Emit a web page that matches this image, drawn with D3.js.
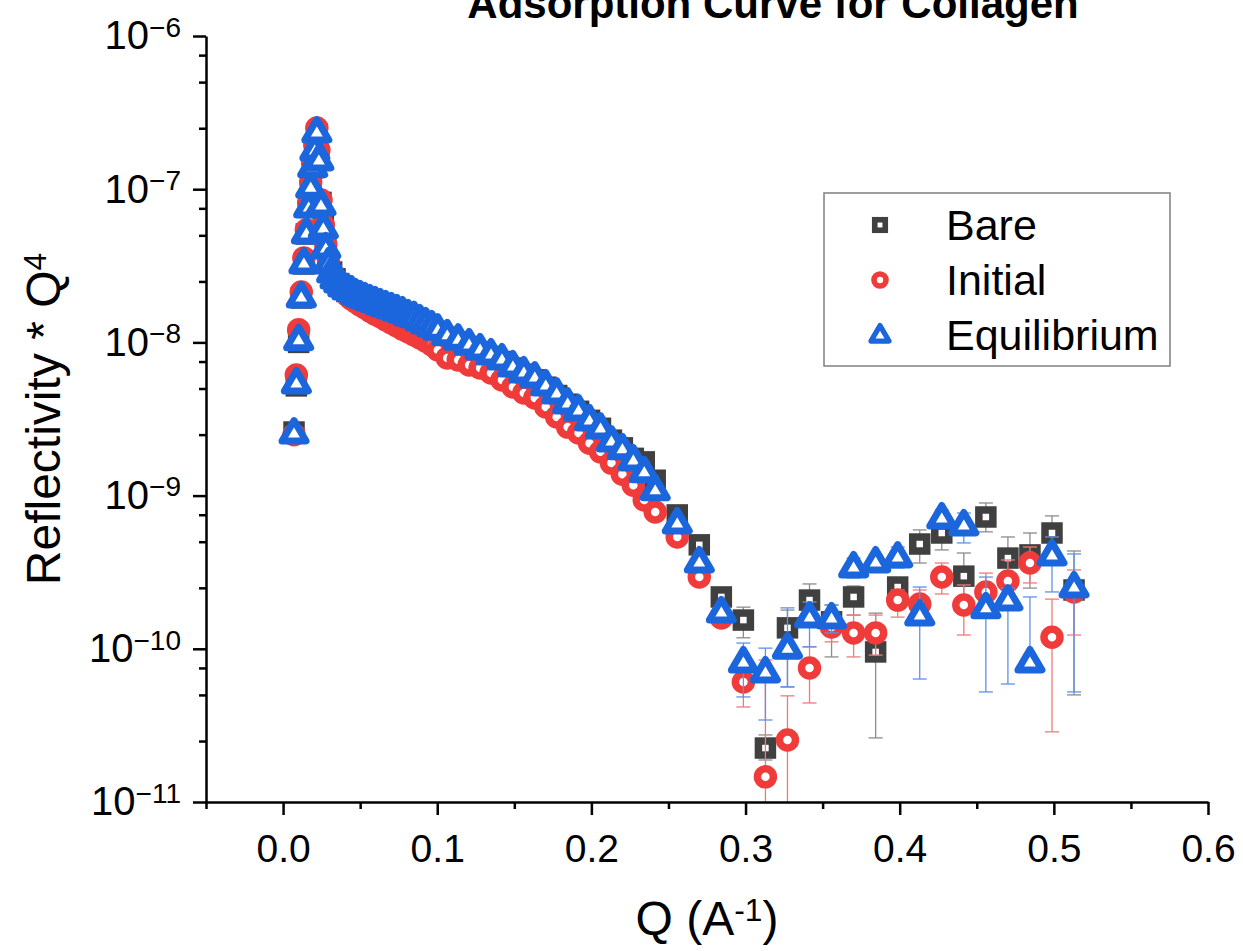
<!DOCTYPE html>
<html>
<head>
<meta charset="utf-8">
<script src="https://cdn.jsdelivr.net/npm/d3@7"></script>
<style>
  body { margin: 0; background: #fff; }
  svg { font-family: "Liberation Sans", Arial, sans-serif; }
</style>
</head>
<body>
<div id="chart"></div>
<script>
// Q values (A^-1), shared by the three runs
const qValues = [
  0.0071, 0.0086, 0.0101, 0.0118, 0.0135, 0.0151, 0.0166, 0.0179, 0.0192, 0.0206, 0.0219,
  0.0232, 0.0246, 0.0261, 0.0277, 0.0295, 0.0315, 0.0337, 0.0361, 0.0387, 0.0414,
  0.0442, 0.0471, 0.0501, 0.0532, 0.0564, 0.0597, 0.0631, 0.0666, 0.0702, 0.0738,
  0.0775, 0.0812, 0.0850, 0.0888, 0.0926, 0.0965, 0.1004,
  0.1065, 0.1136, 0.1207, 0.1278, 0.1349, 0.1420, 0.1491, 0.1562, 0.1633, 0.1704,
  0.1775, 0.1846, 0.1917, 0.1988, 0.2059, 0.2130, 0.2201, 0.2272, 0.2343, 0.2414,
  0.2557, 0.2700, 0.2843, 0.2986, 0.3129, 0.3272, 0.3415, 0.3558, 0.3701, 0.3844,
  0.3987, 0.4130, 0.4273, 0.4416, 0.4559, 0.4702, 0.4845, 0.4988, 0.5131
];

// Reflectivity * Q^4
const bareValues = [
  2.60e-9, 5.20e-9, 1.00e-8, 1.95e-8, 3.25e-8, 5.10e-8, 7.60e-8, 1.02e-7, 1.38e-7, 1.78e-7, 2.30e-7,
  1.60e-7, 8.20e-8, 5.70e-8, 4.20e-8, 3.35e-8, 2.88e-8, 2.60e-8, 2.42e-8, 2.27e-8, 2.15e-8,
  2.07e-8, 1.98e-8, 1.91e-8, 1.84e-8, 1.78e-8, 1.72e-8, 1.66e-8, 1.60e-8, 1.55e-8, 1.49e-8,
  1.44e-8, 1.39e-8, 1.34e-8, 1.29e-8, 1.24e-8, 1.19e-8, 1.14e-8,
  1.08e-8, 1.01e-8, 9.40e-9, 8.70e-9, 8.10e-9, 7.50e-9, 6.80e-9, 6.20e-9, 5.70e-9, 5.10e-9,
  4.50e-9, 3.95e-9, 3.55e-9, 3.10e-9, 2.75e-9, 2.30e-9, 2.05e-9, 1.75e-9, 1.66e-9, 1.26e-9,
  7.48e-10, 4.77e-10, 2.18e-10, 1.54e-10, 2.25e-11, 1.37e-10, 2.08e-10, 1.50e-10, 2.18e-10, 9.54e-11,
  2.53e-10, 4.83e-10, 5.70e-10, 2.98e-10, 7.25e-10, 3.91e-10, 4.10e-10, 5.70e-10, 2.42e-10
];
const initialValues = [
  2.50e-9, 6.12e-9, 1.21e-8, 2.13e-8, 3.56e-8, 5.42e-8, 8.13e-8, 1.11e-7, 1.48e-7, 1.94e-7, 2.51e-7,
  1.80e-7, 8.50e-8, 5.84e-8, 4.32e-8, 3.35e-8, 2.88e-8, 2.59e-8, 2.37e-8, 2.20e-8, 2.04e-8,
  1.92e-8, 1.84e-8, 1.75e-8, 1.68e-8, 1.60e-8, 1.53e-8, 1.47e-8, 1.40e-8, 1.34e-8, 1.28e-8,
  1.22e-8, 1.17e-8, 1.12e-8, 1.07e-8, 1.02e-8, 9.61e-9, 8.92e-9,
  7.91e-9, 7.67e-9, 7.12e-9, 6.81e-9, 6.31e-9, 5.68e-9, 5.12e-9, 4.67e-9, 4.34e-9, 3.79e-9,
  3.26e-9, 2.80e-9, 2.56e-9, 2.20e-9, 1.93e-9, 1.63e-9, 1.38e-9, 1.17e-9, 9.36e-10, 7.82e-10,
  5.37e-10, 2.94e-10, 1.59e-10, 6.07e-11, 1.46e-11, 2.54e-11, 7.50e-11, 1.39e-10, 1.27e-10, 1.27e-10,
  2.08e-10, 1.96e-10, 2.94e-10, 1.93e-10, 2.35e-10, 2.77e-10, 3.63e-10, 1.19e-10, 2.35e-10
];
const equilibriumValues = [
  2.56e-9, 5.43e-9, 1.04e-8, 1.98e-8, 3.30e-8, 5.18e-8, 7.65e-8, 1.03e-7, 1.40e-7, 1.80e-7, 2.36e-7,
  1.55e-7, 7.88e-8, 5.58e-8, 4.13e-8, 3.30e-8, 2.88e-8, 2.63e-8, 2.48e-8, 2.33e-8, 2.23e-8,
  2.17e-8, 2.07e-8, 2.01e-8, 1.95e-8, 1.89e-8, 1.84e-8, 1.78e-8, 1.73e-8, 1.68e-8, 1.63e-8,
  1.58e-8, 1.51e-8, 1.47e-8, 1.40e-8, 1.34e-8, 1.28e-8, 1.22e-8,
  1.12e-8, 1.05e-8, 9.76e-9, 9.06e-9, 8.40e-9, 7.80e-9, 7.01e-9, 6.41e-9, 5.94e-9, 5.27e-9,
  4.67e-9, 4.02e-9, 3.62e-9, 3.12e-9, 2.76e-9, 2.27e-9, 2.02e-9, 1.71e-9, 1.43e-9, 1.09e-9,
  6.62e-10, 3.69e-10, 1.74e-10, 8.20e-11, 7.06e-11, 1.01e-10, 1.61e-10, 1.59e-10, 3.42e-10, 3.69e-10,
  3.97e-10, 1.66e-10, 7.14e-10, 6.43e-10, 1.85e-10, 2.08e-10, 8.20e-11, 4.10e-10, 2.53e-10
];

// error bar ends for the last 19 points (null = bar hidden under the symbol)
const barStart = 58;
const bareBarLow = [null, null, null, 1.18e-10, 1.88e-11, 5.64e-11, 1.59e-10, 8.85e-11, 1.66e-10, 2.62e-11,
  2.08e-10, 3.63e-10, 4.42e-10, 2.18e-10, 5.80e-10, 2.81e-10, 2.49e-10, 4.42e-10, 5.00e-11];
const bareBarHigh = [null, null, null, 1.87e-10, 2.74e-11, 1.79e-10, 2.65e-10, 1.93e-10, 2.57e-10, 1.71e-10,
  2.90e-10, 5.97e-10, 6.93e-10, 4.22e-10, 8.95e-10, 5.37e-10, 5.70e-10, 7.37e-10, 4.35e-10];
const initialBarLow = [null, null, null, 4.17e-11, 5e-12, 5e-12, 4.43e-11, 1.11e-10, 8.85e-11, 9.10e-11,
  1.61e-10, 1.54e-10, 2.28e-10, 1.23e-10, 1.74e-10, 1.93e-10, 2.69e-10, 2.87e-11, 1.23e-10];
const initialBarHigh = [null, null, null, 8.10e-11, 8.45e-11, 4.93e-11, 1.03e-10, 1.66e-10, 1.66e-10, 1.66e-10,
  2.42e-10, 2.42e-10, 3.63e-10, 2.61e-10, 3.12e-10, 3.80e-10, 4.62e-10, 2.11e-10, 3.27e-10];
const equilibriumBarLow = [null, null, null, 4.85e-11, 3.43e-11, 5.64e-11, 1.03e-10, 1.27e-10, 2.90e-10, 3.27e-10,
  3.37e-10, 6.35e-11, 6.15e-10, 4.91e-10, 5.23e-11, 5.89e-11, 7.06e-11, 2.35e-10, 5.23e-11];
const equilibriumBarHigh = [null, null, null, 1.09e-10, 1.01e-10, 1.85e-10, 2.02e-10, 1.93e-10, 3.91e-10, 4.10e-10,
  4.62e-10, 2.53e-10, 8.06e-10, 7.70e-10, 2.94e-10, 2.49e-10, 2.18e-10, 5.37e-10, 4.16e-10];

// axis ticks
const xTickValues = [0.0, 0.1, 0.2, 0.3, 0.4, 0.5, 0.6];
const xMinorValues = [-0.05, 0.05, 0.15, 0.25, 0.35, 0.45, 0.55];
const yTickValues = [1e-11, 1e-10, 1e-9, 1e-8, 1e-7, 1e-6];
const yTickExponents = ["\u221211", "\u221210", "\u22129", "\u22128", "\u22127", "\u22126"];
const yMinorMantissas = [2.5, 5, 7.5];

const series = [
  { name: "Bare", values: bareValues, low: bareBarLow, high: bareBarHigh, shape: "square", color: "#404040", bar: "#8c8c8c" },
  { name: "Initial", values: initialValues, low: initialBarLow, high: initialBarHigh, shape: "circle", color: "#f03b3b", bar: "#f07a7a" },
  { name: "Equilibrium", values: equilibriumValues, low: equilibriumBarLow, high: equilibriumBarHigh, shape: "triangle", color: "#1b66dc", bar: "#5f92e8" }
];

const margin = { top: 36, right: 35, bottom: 149, left: 206 };
const width = 1243 - margin.left - margin.right;
const height = 951 - margin.top - margin.bottom;

const svg = d3.select("#chart")
  .append("svg")
    .attr("width", 1243)
    .attr("height", 951)
  .append("g")
    .attr("transform", `translate(${margin.left},${margin.top})`);

const x = d3.scaleLinear().domain([-0.05, 0.6]).range([0, width]);
const y = d3.scaleLog().domain([1e-11, 1e-6]).range([height, 0]).clamp(true);

// symbols, k scales them down for the legend
function drawSymbol(g, shape, color, k = 1) {
  if (shape === "square") {
    g.append("rect").attr("x", -7 * k).attr("y", -7 * k).attr("width", 14 * k).attr("height", 14 * k)
      .attr("fill", "white").attr("stroke", color).attr("stroke-width", 7.5 * k);
  } else if (shape === "circle") {
    g.append("circle").attr("r", 8 * k)
      .attr("fill", "white").attr("stroke", color).attr("stroke-width", 7.5 * k);
  } else {
    g.append("path").attr("d", `M0,${-12.5 * k}L${12 * k},${8 * k}L${-12 * k},${8 * k}Z`)
      .attr("fill", "white").attr("stroke", color).attr("stroke-width", 7 * k)
      .attr("stroke-linejoin", "round");
  }
}

// series: error bars, then symbols
series.forEach(s => {
  const g = svg.append("g");
  const bars = s.low.map((lo, i) => ({ q: qValues[barStart + i], lo: lo, hi: s.high[i] }))
    .filter(d => d.lo !== null);
  const bg = g.selectAll(".bar").data(bars).enter().append("g").attr("stroke", s.bar).attr("stroke-width", 1.3);
  bg.append("line")
    .attr("x1", d => x(d.q)).attr("x2", d => x(d.q))
    .attr("y1", d => y(d.hi)).attr("y2", d => y(d.lo));
  bg.append("line")
    .attr("x1", d => x(d.q) - 7).attr("x2", d => x(d.q) + 7)
    .attr("y1", d => y(d.hi)).attr("y2", d => y(d.hi));
  bg.filter(d => d.lo >= 1e-11).append("line")
    .attr("x1", d => x(d.q) - 7).attr("x2", d => x(d.q) + 7)
    .attr("y1", d => y(d.lo)).attr("y2", d => y(d.lo));

  g.selectAll(".pt").data(s.values).enter().append("g")
    .attr("transform", (d, i) => `translate(${x(qValues[i])},${y(d)})`)
    .each(function() { drawSymbol(d3.select(this), s.shape, s.color); });
});

// x axis
svg.append("g")
  .attr("transform", `translate(0,${height})`)
  .call(d3.axisBottom(x).tickValues(xTickValues).tickSize(13).tickSizeOuter(0).tickPadding(19)
    .tickFormat(d3.format(".1f")))
  .attr("font-size", 39).attr("font-family", null);
svg.append("g")
  .attr("transform", `translate(0,${height})`)
  .call(d3.axisBottom(x).tickValues(xMinorValues).tickSize(7).tickSizeOuter(0).tickFormat(""))
  .call(g => g.select(".domain").remove());

// y axis
const yMinor = [];
yTickValues.slice(0, -1).forEach(v => yMinorMantissas.forEach(m => yMinor.push(v * m)));
const yAxis = svg.append("g")
  .call(d3.axisLeft(y).tickValues(yTickValues).tickSize(13).tickSizeOuter(0).tickPadding(12))
  .attr("font-size", 40).attr("font-family", null);
svg.append("g")
  .call(d3.axisLeft(y).tickValues(yMinor).tickSize(7).tickSizeOuter(0).tickFormat(""))
  .call(g => g.select(".domain").remove());

yAxis.selectAll(".tick text").each(function(d, i) {
  const t = d3.select(this);
  t.text(null);
  t.append("tspan").text("10");
  t.append("tspan").attr("dy", "-0.45em").attr("font-size", "0.7em").text(yTickExponents[i]);
});

svg.selectAll(".domain").attr("stroke-width", 2.5);
svg.selectAll(".tick line").attr("stroke-width", 2.5);
svg.selectAll(".tick text").attr("fill", "#000");

// axis titles
const xTitle = svg.append("text")
  .attr("x", width / 2)
  .attr("y", height + 133)
  .attr("text-anchor", "middle")
  .attr("font-size", 48);
xTitle.append("tspan").text("Q (A");
xTitle.append("tspan").attr("dy", "-0.45em").attr("font-size", "0.66em").text("-1");
xTitle.append("tspan").attr("dy", "0.3em").text(")");

const yTitle = svg.append("text")
  .attr("transform", "rotate(-90)")
  .attr("x", -height / 2)
  .attr("y", -146)
  .attr("text-anchor", "middle")
  .attr("font-size", 48);
yTitle.append("tspan").text("Reflectivity * Q");
yTitle.append("tspan").attr("dy", "-0.45em").attr("font-size", "0.66em").text("4");

// chart title (cut off at the top edge, as in the source image)
svg.append("text")
  .attr("x", 567)
  .attr("y", -18)
  .attr("text-anchor", "middle")
  .attr("font-size", 42)
  .attr("font-weight", "bold")
  .text("Adsorption Curve for Collagen");

// legend
const legend = svg.append("g").attr("transform", "translate(618,157)");
legend.append("rect")
  .attr("width", 346).attr("height", 173)
  .attr("fill", "white").attr("stroke", "#7f7f7f").attr("stroke-width", 1.5);
series.forEach((s, i) => {
  const row = legend.append("g").attr("transform", `translate(56,${32 + i * 55})`);
  drawSymbol(row, s.shape, s.color, 0.75);
  row.append("text").attr("x", 66).attr("dy", "0.36em").attr("font-size", 43).text(s.name);
});
</script>
</body>
</html>
